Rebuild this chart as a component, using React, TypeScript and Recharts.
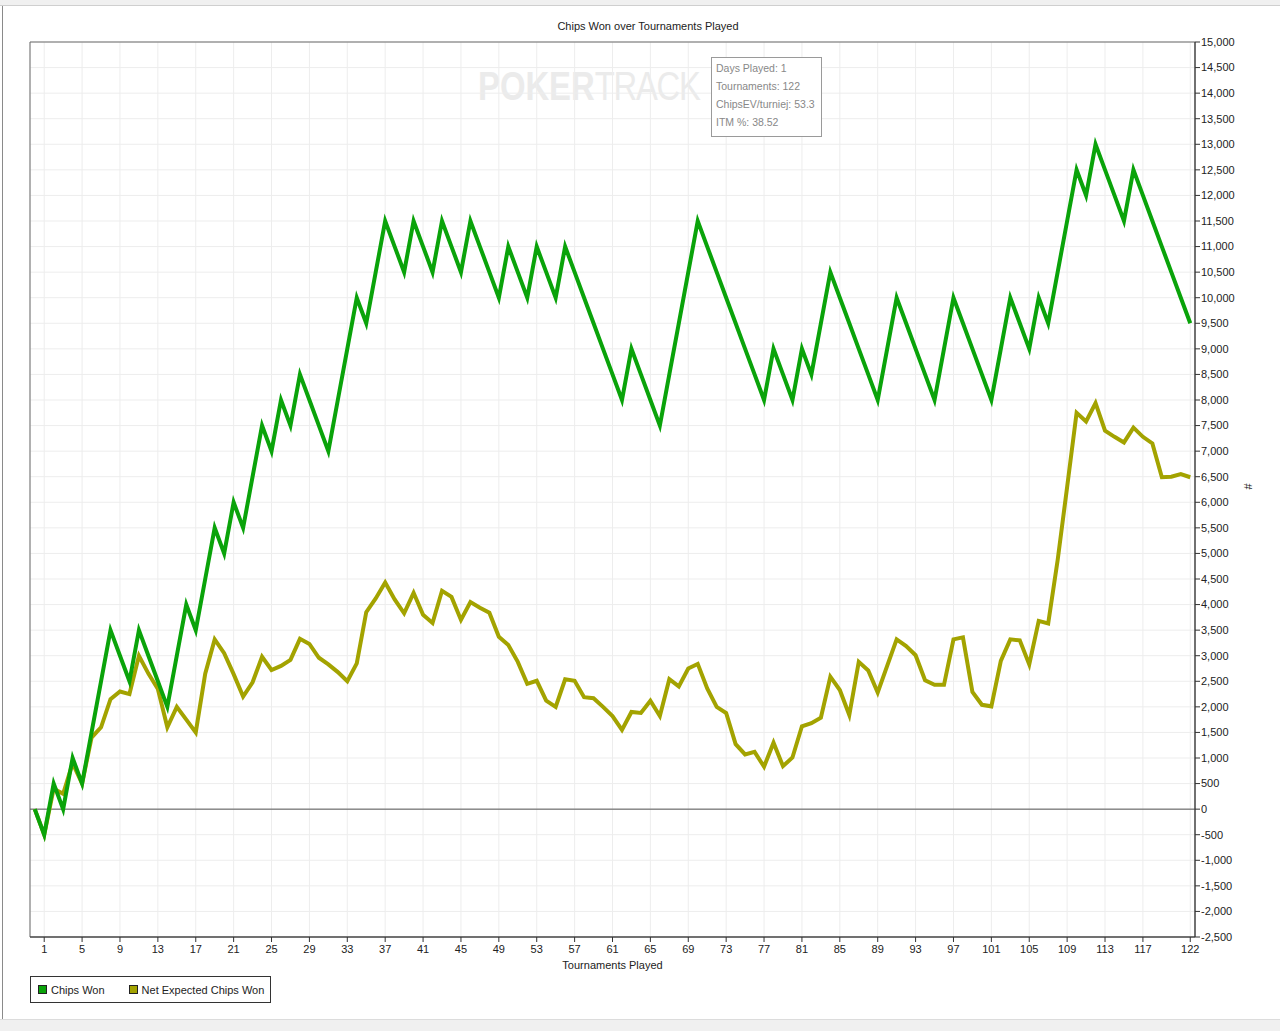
import React from 'react';
import { LineChart, Line, XAxis, YAxis, CartesianGrid, ReferenceLine, ReferenceArea } from 'recharts';

// cumulative chips per tournament, index 0 = start
const chipsWon = [
  0, -500, 500, 0, 1000, 500, 1500, 2500, 3500, 3000,
  2500, 3500, 3000, 2500, 2000, 3000, 4000, 3500, 4500, 5500,
  5000, 6000, 5500, 6500, 7500, 7000, 8000, 7500, 8500, 8000,
  7500, 7000, 8000, 9000, 10000, 9500, 10500, 11500, 11000, 10500,
  11500, 11000, 10500, 11500, 11000, 10500, 11500, 11000, 10500, 10000,
  11000, 10500, 10000, 11000, 10500, 10000, 11000, 10500, 10000, 9500,
  9000, 8500, 8000, 9000, 8500, 8000, 7500, 8500, 9500, 10500,
  11500, 11000, 10500, 10000, 9500, 9000, 8500, 8000, 9000, 8500,
  8000, 9000, 8500, 9500, 10500, 10000, 9500, 9000, 8500, 8000,
  9000, 10000, 9500, 9000, 8500, 8000, 9000, 10000, 9500, 9000,
  8500, 8000, 9000, 10000, 9500, 9000, 10000, 9500, 10500, 11500,
  12500, 12000, 13000, 12500, 12000, 11500, 12500, 12000, 11500, 11000,
  10500, 10000, 9500,
];

const netExpected = [
  0, -500, 400, 300, 900, 500, 1400, 1600, 2150, 2300,
  2250, 3000, 2650, 2350, 1600, 2000, 1750, 1500, 2650, 3320,
  3050, 2640, 2200, 2480, 2980, 2720, 2800, 2920, 3330, 3230,
  2960, 2830, 2680, 2500, 2850, 3850, 4120, 4430, 4100, 3830,
  4230, 3800, 3640, 4270, 4150, 3700, 4050, 3940, 3840, 3370,
  3210, 2880, 2450, 2510, 2120, 2000, 2540, 2510, 2190, 2170,
  2000, 1820, 1550, 1900, 1880, 2120, 1820, 2540, 2400, 2750,
  2840, 2360, 2000, 1880, 1270, 1070, 1120, 830, 1300, 840,
  1010, 1620, 1680, 1790, 2590, 2330, 1840, 2880, 2710, 2280,
  2800, 3320, 3190, 3010, 2520, 2430, 2430, 3320, 3360, 2290,
  2040, 2010, 2900, 3320, 3300, 2830, 3680, 3630, 4870, 6300,
  7750, 7580, 7940, 7400, 7280, 7170, 7460, 7280, 7150, 6490,
  6500, 6550, 6490,
];

const xTicks = [1, 5, 9, 13, 17, 21, 25, 29, 33, 37, 41, 45, 49, 53, 57, 61, 65, 69, 73, 77, 81, 85, 89, 93, 97, 101, 105, 109, 113, 117, 122];

const yTicks = [
  -2500, -2000, -1500, -1000, -500, 0, 500, 1000, 1500, 2000, 2500, 3000, 3500, 4000,
  4500, 5000, 5500, 6000, 6500, 7000, 7500, 8000, 8500, 9000, 9500, 10000, 10500,
  11000, 11500, 12000, 12500, 13000, 13500, 14000, 14500, 15000,
];

const infoLines = ['Days Played: 1', 'Tournaments: 122', 'ChipsEV/turniej: 53.3', 'ITM %: 38.52'];

const GREEN = '#0aa30a';
const OLIVE = '#a3a300';
const FONT = '"Liberation Sans", Arial, sans-serif';

const data = chipsWon.map((v, i) => ({ t: i, won: v, ev: netExpected[i] }));

const tickStyle = { fontSize: 11, fill: '#222', fontFamily: FONT };

export default function App() {
  return (
    <div style={{ position: 'absolute', left: 0, top: 0, width: 1280, height: 1031, background: '#fff', overflow: 'hidden', fontFamily: FONT }}>
      {/* window chrome */}
      <div style={{ position: 'absolute', left: 0, top: 0, width: 1280, height: 5, background: '#f0f0f0', borderBottom: '1px solid #cfcfcf' }} />
      <div style={{ position: 'absolute', left: 2, top: 6, width: 1, height: 1013, background: '#8a8a8a' }} />
      <div style={{ position: 'absolute', left: 0, top: 1019, width: 1280, height: 12, background: '#f0f0f0', borderTop: '1px solid #dcdcdc' }} />

      <div style={{ position: 'absolute', left: 0, top: 20, width: 1296, textAlign: 'center', fontSize: 11, color: '#222' }}>
        Chips Won over Tournaments Played
      </div>

      {/* watermark */}
      <div style={{ position: 'absolute', left: 478, top: 62, fontSize: 40, color: '#ebebeb', whiteSpace: 'nowrap', lineHeight: '48px', transform: 'scaleX(0.82)', transformOrigin: 'left top' }}>
        <span style={{ fontWeight: 700 }}>POKER</span>
        <span style={{ fontWeight: 400, letterSpacing: -1.5 }}>TRACK</span>
      </div>

      <div style={{ position: 'absolute', left: 0, top: 0 }}>
        <LineChart width={1280} height={1031} data={data} margin={{ top: 42, right: 0, left: 30, bottom: 60 }}>
          <CartesianGrid stroke="#ededed" strokeWidth={1} />
          <ReferenceArea x1={-0.5} x2={122.5} y1={-2500} y2={15000} fill="none" stroke="#6a6a6a" strokeWidth={1} ifOverflow="visible" />
          <XAxis
            dataKey="t"
            type="number"
            domain={[-0.5, 122.5]}
            ticks={xTicks}
            interval={0}
            allowDataOverflow
            height={34}
            tickSize={5}
            tickMargin={3}
            stroke="#333"
            tick={tickStyle}
            label={{ value: 'Tournaments Played', position: 'insideBottom', offset: 2, style: { fontSize: 11, fill: '#222', fontFamily: FONT } }}
          />
          <YAxis
            orientation="right"
            width={85}
            domain={[-2500, 15000]}
            ticks={yTicks}
            interval={0}
            allowDataOverflow
            tickSize={5}
            tickMargin={1}
            stroke="#333"
            tick={tickStyle}
            tickFormatter={(v: number) => v.toLocaleString('en-US')}
            label={{ value: '#', angle: 90, position: 'insideRight', offset: 32, style: { fontSize: 11, fill: '#222', fontFamily: FONT } }}
          />
          <ReferenceLine y={0} stroke="#555" strokeWidth={1} />
          <Line type="linear" dataKey="ev" stroke={OLIVE} strokeWidth={4} dot={false} isAnimationActive={false} />
          <Line type="linear" dataKey="won" stroke={GREEN} strokeWidth={4} dot={false} isAnimationActive={false} />
        </LineChart>
      </div>

      {/* stats box */}
      <div style={{ position: 'absolute', left: 711, top: 57, width: 111, height: 80, border: '1px solid #9a9a9a', background: '#fff', boxSizing: 'border-box', padding: '1px 0 0 4px' }}>
        {infoLines.map((s) => (
          <div key={s} style={{ fontSize: 10.5, color: '#888', lineHeight: '18px', whiteSpace: 'nowrap' }}>{s}</div>
        ))}
      </div>

      {/* legend */}
      <div style={{ position: 'absolute', left: 30, top: 976, width: 241, height: 27, border: '1px solid #333', boxSizing: 'border-box', display: 'flex', alignItems: 'center', fontSize: 11, color: '#222' }}>
        <span style={{ display: 'inline-block', width: 7, height: 7, background: GREEN, border: '1px solid #222', marginLeft: 7, marginRight: 4 }} />
        <span>Chips Won</span>
        <span style={{ display: 'inline-block', width: 7, height: 7, background: OLIVE, border: '1px solid #222', marginLeft: 24, marginRight: 4 }} />
        <span>Net Expected Chips Won</span>
      </div>
    </div>
  );
}
